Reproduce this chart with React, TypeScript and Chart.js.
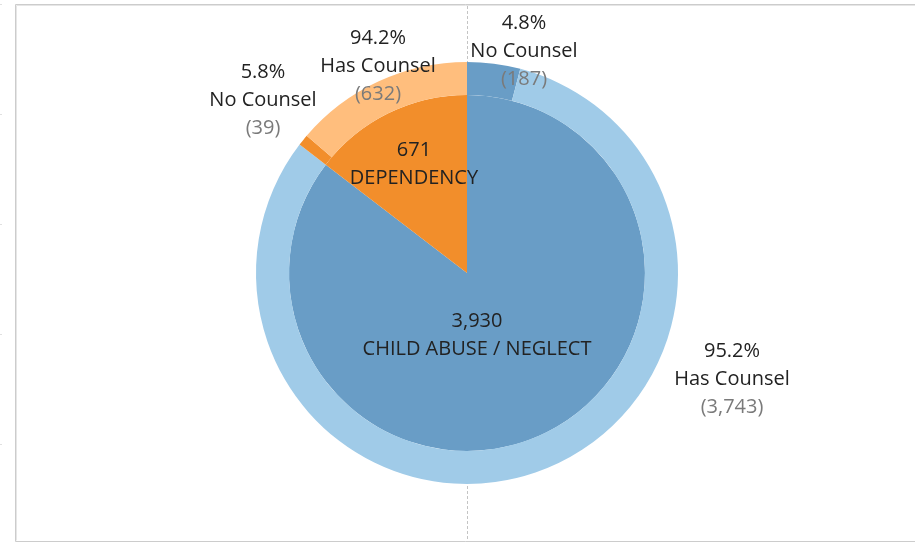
import React, { useEffect, useRef } from "react";
import { Chart, registerables } from "chart.js";

Chart.register(...registerables);

// ---- data ----
const categories = ["CHILD ABUSE / NEGLECT", "DEPENDENCY"];
const categoryTotals = [3930, 671];
const counselLabels = ["No Counsel", "Has Counsel", "No Counsel", "Has Counsel"];
const counselCounts = [187, 3743, 39, 632];
const counselCategory = [0, 0, 1, 1];

// ---- styles ----
const BLUE = "#699dc6";
const BLUE_LIGHT = "#a0cbe8";
const ORANGE = "#f28e2b";
const ORANGE_LIGHT = "#ffbe7d";
const outerColors = [BLUE, BLUE_LIGHT, ORANGE, ORANGE_LIGHT];
const innerColors = [BLUE, ORANGE];
const FONT = '"Open Sans", sans-serif';
const FONT_SIZE = 20;
const LINE_GAP = 28;

// label anchors relative to the pie centre (px)
const outerLabelOffsets: [number, number][] = [
  [57, -221.5],
  [265, 106.5],
  [-204, -172.5],
  [-89, -206.5],
];
const innerLabelOffsets: [number, number][] = [
  [10, 62],
  [-53, -109],
];

const fmt = (n: number) => n.toLocaleString("en-US");

const framePlugin = {
  id: "frame",
  beforeDraw(chart: any) {
    const ctx = chart.ctx as CanvasRenderingContext2D;
    const meta = chart.getDatasetMeta(1);
    const arc = meta.data[0];
    const cx = Math.round(arc.x) + 0.5;
    ctx.save();
    ctx.fillStyle = "#ffffff";
    ctx.fillRect(0, 0, chart.width, chart.height);
    // frame
    ctx.lineWidth = 1;
    ctx.strokeStyle = "#e6e6e6";
    ctx.beginPath();
    ctx.moveTo(16.5, 540.5);
    ctx.lineTo(16.5, 5.5);
    ctx.lineTo(chart.width, 5.5);
    ctx.stroke();
    ctx.strokeStyle = "#cccccc";
    ctx.beginPath();
    ctx.moveTo(15.5, 541.5);
    ctx.lineTo(15.5, 4.5);
    ctx.lineTo(chart.width, 4.5);
    ctx.moveTo(15.5, 541.5);
    ctx.lineTo(chart.width, 541.5);
    ctx.stroke();
    // faint left ticks
    ctx.strokeStyle = "#e0e0e0";
    [4.5, 114.5, 224.5, 334.5, 444.5].forEach((y) => {
      ctx.beginPath();
      ctx.moveTo(0, y);
      ctx.lineTo(2, y);
      ctx.stroke();
    });
    // dashed reference line
    ctx.strokeStyle = "#c4c4c4";
    ctx.setLineDash([3, 2]);
    ctx.beginPath();
    ctx.moveTo(cx, 6);
    ctx.lineTo(cx, 541);
    ctx.stroke();
    ctx.restore();
  },
};

const labelPlugin = {
  id: "labels",
  afterDatasetsDraw(chart: any) {
    const ctx = chart.ctx as CanvasRenderingContext2D;
    const arc = chart.getDatasetMeta(1).data[0];
    const cx = arc.x;
    const cy = arc.y;
    ctx.save();
    ctx.font = `${FONT_SIZE}px ${FONT}`;
    ctx.textAlign = "center";
    ctx.textBaseline = "middle";
    const drawLines = (x: number, y: number, lines: [string, string][]) => {
      const start = y - ((lines.length - 1) * LINE_GAP) / 2;
      lines.forEach(([t, c], i) => {
        ctx.fillStyle = c;
        ctx.fillText(t, x, start + i * LINE_GAP);
      });
    };
    counselCounts.forEach((v, i) => {
      const tot = categoryTotals[counselCategory[i]];
      const pct = ((v / tot) * 100).toFixed(1) + "%";
      const [dx, dy] = outerLabelOffsets[i];
      drawLines(cx + dx, cy + dy, [
        [pct, "#222222"],
        [counselLabels[i], "#222222"],
        [`(${fmt(v)})`, "#7a7a7a"],
      ]);
    });
    categoryTotals.forEach((v, i) => {
      const [dx, dy] = innerLabelOffsets[i];
      drawLines(cx + dx, cy + dy, [
        [fmt(v), "#222222"],
        [categories[i], "#222222"],
      ]);
    });
    ctx.restore();
  },
};

export default function App() {
  const ref = useRef<HTMLCanvasElement>(null);
  useEffect(() => {
    document.body.style.margin = "0";
    const chart = new Chart(ref.current as HTMLCanvasElement, {
      type: "doughnut",
      data: {
        labels: counselLabels,
        datasets: [
          {
            data: counselCounts,
            backgroundColor: outerColors,
            borderWidth: 0,
            weight: 33,
          } as any,
          {
            data: categoryTotals,
            backgroundColor: innerColors,
            borderWidth: 0,
            weight: 178,
          } as any,
        ],
      },
      options: {
        animation: false,
        responsive: false,
        cutout: 0,
        layout: { padding: { top: 62, bottom: 59, left: 217, right: 198 } },
        plugins: {
          legend: { display: false },
          tooltip: { enabled: false },
        },
      },
      plugins: [framePlugin, labelPlugin],
    });
    return () => chart.destroy();
  }, []);
  return (
    <div style={{ width: 915, height: 543 }}>
      <canvas ref={ref} width={915} height={543} />
    </div>
  );
}
